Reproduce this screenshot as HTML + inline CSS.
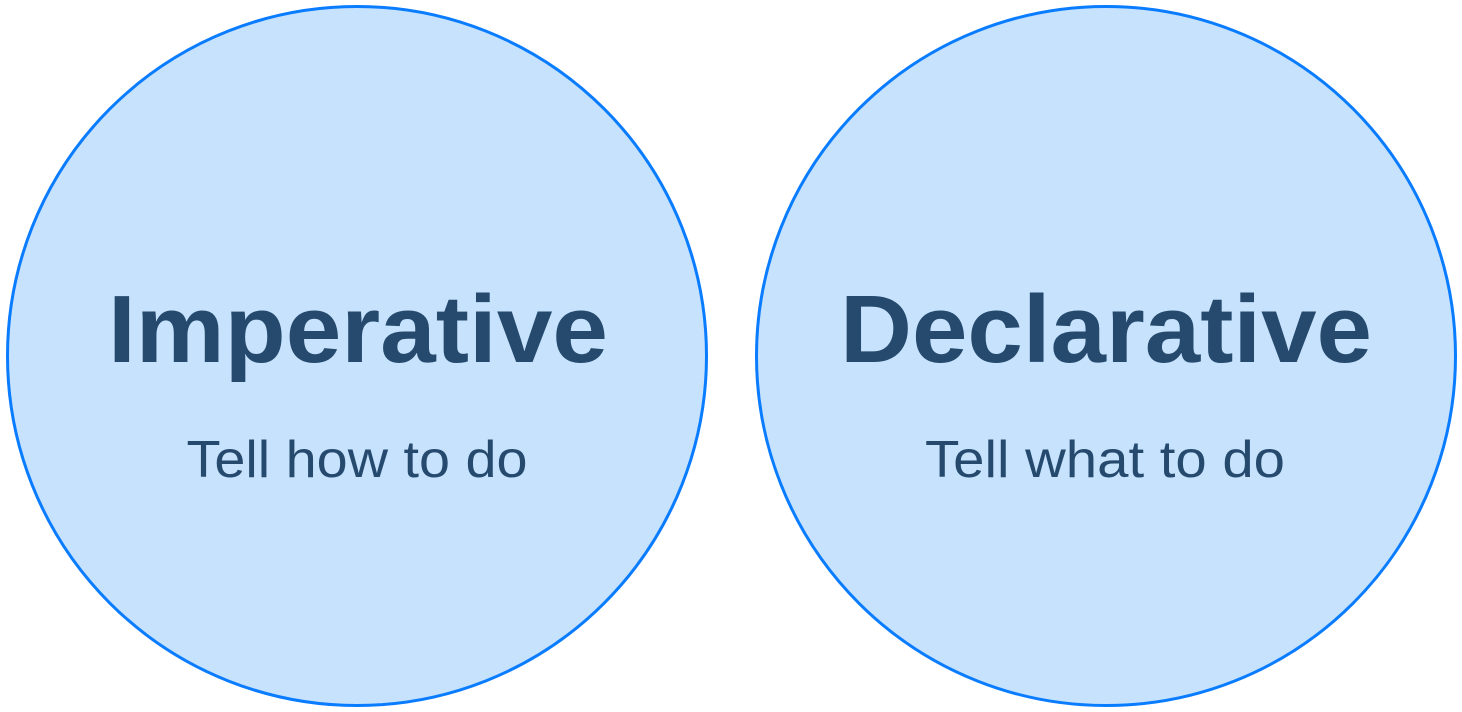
<!DOCTYPE html>
<html><head><style>html,body{margin:0;padding:0;background:#fff;}svg{display:block}</style></head>
<body>
<svg width="1462" height="712" viewBox="0 0 1462 712" xmlns="http://www.w3.org/2000/svg">
<circle cx="357" cy="356" r="349.5" fill="#c6e2fd" stroke="#0a7cff" stroke-width="3"/>
<circle cx="1106" cy="356" r="349.5" fill="#c6e2fd" stroke="#0a7cff" stroke-width="3"/>
<g font-family="Liberation Sans, sans-serif" fill="#264a6e" text-anchor="middle">
<text x="358" y="362" font-size="96" font-weight="bold" textLength="500" lengthAdjust="spacingAndGlyphs">Imperative</text>
<text x="1106" y="362" font-size="96" font-weight="bold" textLength="532" lengthAdjust="spacingAndGlyphs">Declarative</text>
<text x="357" y="477" font-size="52" textLength="341" lengthAdjust="spacingAndGlyphs">Tell how to do</text>
<text x="1105" y="477" font-size="52" textLength="360" lengthAdjust="spacingAndGlyphs">Tell what to do</text>
</g>
</svg>
</body></html>
